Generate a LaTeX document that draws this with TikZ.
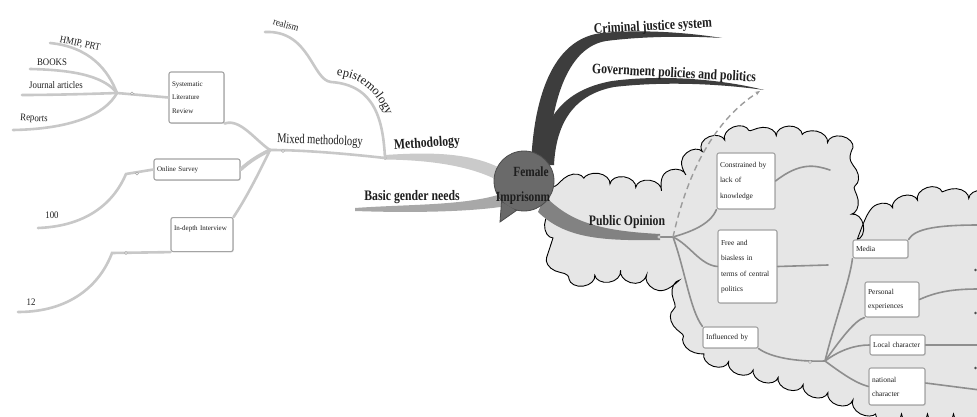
\documentclass[tikz,border=0pt]{standalone}
\usepackage{fontspec}
\setmainfont{Liberation Serif}
\newfontfamily\headfont[FakeStretch=0.81]{Liberation Serif}
\newfontfamily\midfont[FakeStretch=0.78]{Liberation Serif}
\newfontfamily\leaffont[FakeStretch=0.88]{Liberation Serif}
\usetikzlibrary{decorations.pathmorphing,decorations.text,shadows,arrows.meta}

\definecolor{darkbr}{HTML}{3D3D3D}
\definecolor{methband}{HTML}{CACACA}
\definecolor{bgnband}{HTML}{A8A8A8}
\definecolor{poband}{HTML}{828282}
\definecolor{leafgray}{HTML}{C8C8C8}
\definecolor{linegray}{HTML}{8E8E8E}
\definecolor{boxgray}{HTML}{A4A4A4}
\definecolor{cloudfill}{HTML}{E6E6E6}
\definecolor{circgray}{HTML}{6A6A6A}
\definecolor{circedge}{HTML}{4C4C4C}
\definecolor{txt}{HTML}{1E1E1E}
\definecolor{dashgray}{HTML}{9C9C9C}

\begin{document}
\begin{tikzpicture}[x=1pt,y=-1pt,
  leafline/.style={draw=leafgray, line width=2.6pt, line cap=round},
  cloudline/.style={draw=linegray, line width=1.6pt, line cap=round},
  ibox/.style={draw=boxgray, line width=1.1pt, rounded corners=2pt, fill=white,
    align=left, inner xsep=3pt, inner ysep=2pt, text=txt,
    drop shadow={opacity=0.22, shadow xshift=0.8pt, shadow yshift=-0.8pt}},
  lbox/.style={ibox, font=\fontsize{7}{13.5}\selectfont},
  cbox/.style={ibox, font=\fontsize{7.5}{14}\selectfont},
  headlbl/.style={font=\headfont\bfseries\fontsize{14.5}{15}\selectfont, text=txt, inner sep=0pt},
  midlbl/.style={font=\midfont\fontsize{13.5}{14}\selectfont, text=txt, inner sep=0pt},
  leaflbl/.style={font=\leaffont\fontsize{10}{11}\selectfont, text=txt, inner sep=0pt},
  jdot/.style={circle, fill=white, draw=boxgray, line width=0.5pt, minimum size=3pt, inner sep=0pt},
  cloudshape/.style={fill=cloudfill, draw=black, line width=0.9pt,
    decorate, decoration={bumps, segment length=52pt, amplitude=9pt}}
]
\useasboundingbox[fill=white] (0,0) rectangle (977,417);

% ---------- cloud around the public opinion branch ----------
\path[cloudshape] (553,238) -- (555,192) -- (580,180) -- (640,188) -- (668,180)
  -- (686,165) -- (700,150) -- (730,138) -- (790,135) -- (830,143) -- (843,165)
  -- (849,200) -- (854,224) -- (880,213) -- (930,196) -- (977,199) -- (998,202)
  -- (998,414) -- (880,414) -- (857,402) -- (823,391) -- (790,381) -- (757,371)
  -- (723,360) -- (698,345) -- (686,328) -- (681,293) -- (660,282) -- (623,271)
  -- (590,276) -- (562,264) -- cycle;

% ---------- main branches ----------
% Criminal justice system
\fill[darkbr] (531,165) .. controls (534,90) and (556,38) .. (602,33)
  .. controls (645,29) and (690,33) .. (722,38)
  .. controls (690,36) and (645,36) .. (606,41)
  .. controls (570,47) and (551,95) .. (548,165) -- cycle;
% Government policies and politics
\fill[darkbr] (538,165) .. controls (542,120) and (562,90) .. (612,81)
  .. controls (665,74) and (725,80) .. (764,90)
  .. controls (722,84) and (665,81) .. (614,87)
  .. controls (572,95) and (556,125) .. (554,165) -- cycle;
% Methodology
\fill[methband] (385,155) .. controls (430,152) and (475,152) .. (507,172)
  -- (507,186) .. controls (478,166) and (430,160) .. (385,159.5) -- cycle;
% Basic gender needs
\fill[bgnband] (355,208) .. controls (410,204) and (470,206) .. (507,192)
  -- (507,206) .. controls (470,212) and (410,213) .. (355,211) -- cycle;
% Public Opinion
\fill[poband] (545,196) .. controls (570,222) and (600,231) .. (660,234)
  -- (660,240) .. controls (600,241) and (565,238) .. (538,212) -- cycle;

% ---------- central topic ----------
\node[circle, minimum size=60pt, inner sep=0pt] (core) at (524,181) {};
\filldraw[fill=circgray, draw=circedge, line width=0.8pt] (core.222) -- (500,222) -- (core.256) -- cycle;
\filldraw[fill=circgray, draw=circedge, line width=0.8pt] (core) circle[radius=30pt];
\fill[circgray] (core.226) -- (501,220) -- (core.252) -- cycle;
\node[headlbl, font=\headfont\bfseries\fontsize{14}{15}\selectfont] (fem) at (531,172) {Female};
\node[headlbl, font=\headfont\bfseries\fontsize{14}{15}\selectfont] (imp) at (523,198) {Imprisonm};

% ---------- branch labels ----------
\node[headlbl, rotate=3] (cjs) at (653,27) {Criminal justice system};
\node[headlbl, rotate=-3] (gov) at (674,74) {Government policies and politics};
\node[headlbl, rotate=4] (meth) at (427,144) {Methodology};
\node[headlbl] (bgn) at (412,197) {Basic gender needs};
\node[headlbl] (po) at (627,222) {Public Opinion};

% ---------- methodology sub-tree ----------
\coordinate (methend) at (385,158);
\coordinate (mixhub) at (270,150);
\coordinate (episbend) at (331,82);
\coordinate (realend) at (265,32);
\node[jdot] (methdot) at (methend) {};
\draw[leafline] (methend) .. controls (340,153) and (300,150) .. (mixhub);
\draw[leafline] (methend) .. controls (383,120) and (375,85) .. (episbend)
  .. controls (312,80) and (310,30) .. (realend);
\node[jdot] (mixdot) at (283,151) {};
\node[midlbl, rotate=-2] (mixed) at (320,141) {Mixed methodology};
\node[leaflbl, rotate=-15] (realism) at (286,25) {realism};
\path[decorate, decoration={text along path, text align=center, text color=txt,
    text={|\fontsize{12.5}{13}\selectfont|epistemology}}]
  (328,76) .. controls (358,74) and (380,92) .. (389,124);

% boxes on the left
\node[lbox, text width=49pt, minimum height=51pt] (slr) at (196.5,97.5) {Systematic\\Literature\\Review};
\node[lbox, text width=80pt, minimum height=21pt] (survey) at (197,169.5) {Online Survey};
\node[lbox, text width=56pt, text height=10.5pt, text depth=19.5pt, anchor=north] (interview) at (202,217) {In-depth Interview};

\draw[leafline] (mixhub) .. controls (255,140) and (240,118) .. (slr.south east);
\draw[leafline, line width=3.6pt] (mixhub) .. controls (258,156) and (250,161) .. (survey.east);
\draw[leafline] (mixhub) .. controls (258,175) and (245,200) .. (interview.north east);

% literature sources
\coordinate (srchub) at (117,93);
\coordinate (hmipend) at (50,43);
\coordinate (booksend) at (30,69);
\coordinate (journalend) at (22,95);
\coordinate (reportsend) at (13,130);
\draw[leafline] (slr.west) -- (srchub);
\node[jdot] (srcdot) at (132,93.5) {};
\draw[leafline] (srchub) .. controls (108,70) and (90,47) .. (hmipend);
\draw[leafline] (srchub) .. controls (105,78) and (80,70) .. (booksend);
\draw[leafline] (srchub) .. controls (90,94) and (50,95) .. (journalend);
\draw[leafline] (srchub) .. controls (105,115) and (70,129) .. (reportsend);
\node[leaflbl, rotate=-12] (hmip) at (80,44) {HMIP, PRT};
\node[leaflbl] (books) at (52,62) {BOOKS};
\node[leaflbl] (journal) at (56,85) {Journal articles};
\node[leaflbl, rotate=-4] (reports) at (34,119) {Reports};

% survey and interview counts
\coordinate (surveybend) at (126,174);
\coordinate (hundredend) at (38,228);
\draw[leafline] (survey.west) -- (surveybend) .. controls (115,200) and (90,226) .. (hundredend);
\node[jdot] (surveydot) at (137,173.5) {};
\node[leaflbl] (hundred) at (52,215) {100};

\coordinate (interviewbend) at (112,253);
\coordinate (twelveend) at (18,312);
\draw[leafline] (interview.south west) -- (interviewbend) .. controls (100,285) and (70,312) .. (twelveend);
\node[jdot] (interviewdot) at (126,253) {};
\node[leaflbl] (twelve) at (31,302) {12};

% ---------- public opinion sub-tree ----------
\coordinate (pohub) at (673,237);
\node[cbox, font=\fontsize{7.5}{15.5}\selectfont, text width=52pt, minimum height=56pt] (constr) at (746,181) {Constrained by\\lack of\\knowledge};
\node[cbox, font=\fontsize{7.5}{15.5}\selectfont, text width=53pt, minimum height=73pt] (free) at (747.5,266.5) {Free and\\biasless in\\terms of central\\politics};
\node[cbox, text width=49pt, minimum height=21pt] (infl) at (730.5,337.5) {Influenced by};
\node[cbox, text width=49pt, minimum height=18pt] (media) at (880.5,249) {Media};
\node[cbox, text width=48pt, minimum height=35pt] (personal) at (892,299.5) {Personal\\experiences};
\node[cbox, text width=49pt, minimum height=20pt] (local) at (897.5,345) {Local character};
\node[cbox, text width=50pt, minimum height=37pt] (national) at (897,386.5) {national\\character};

\node[jdot] (podot) at (659,237) {};
\draw[cloudline] (podot) -- (pohub);
\draw[cloudline] (pohub) .. controls (690,232) and (710,225) .. (constr.south west);
\draw[cloudline] (pohub) .. controls (690,245) and (700,265) .. (free.west);
\draw[cloudline] (pohub) .. controls (685,270) and (690,310) .. (infl.north west);
\coordinate (constrend) at (830,170);
\coordinate (freeend) at (828,265);
\draw[cloudline] (constr.east) .. controls (800,162) and (815,165) .. (constrend);
\draw[cloudline] (free.east) -- (freeend);

\coordinate (inflhub) at (825,361);
\draw[cloudline] (infl.south east) .. controls (770,357) and (795,362) .. (inflhub);
\node[jdot] (infldot) at (810,362) {};
\draw[cloudline] (inflhub) .. controls (835,320) and (850,280) .. (media.south west);
\draw[cloudline] (inflhub) .. controls (840,340) and (855,320) .. (personal.south west);
\draw[cloudline] (inflhub) .. controls (840,350) and (855,345) .. (local.west);
\draw[cloudline] (inflhub) .. controls (840,372) and (855,383) .. (national.west);

\coordinate (mediaend) at (980,225);
\coordinate (personalend) at (980,289);
\coordinate (localend) at (980,345);
\coordinate (nationalend) at (980,390);
\draw[cloudline] (media.north east) .. controls (915,228) and (940,225) .. (mediaend);
\draw[cloudline] (personal.east) .. controls (940,290) and (960,289) .. (personalend);
\draw[cloudline] (local.east) -- (localend);
\draw[cloudline] ([yshift=3.5pt]national.east) -- (nationalend);
\foreach \yy [count=\k] in {270,313,368}
  \fill[black!70] (975.5,\yy) circle[radius=1.3pt];

% link from public opinion to government policies
\coordinate (govtip) at (760,91);
\draw[dashgray, line width=1.4pt, dash pattern=on 6pt off 4pt, -{Stealth[length=5pt,width=4pt]}]
  (pohub) .. controls (688,170) and (715,120) .. (govtip);
\end{tikzpicture}
\end{document}
